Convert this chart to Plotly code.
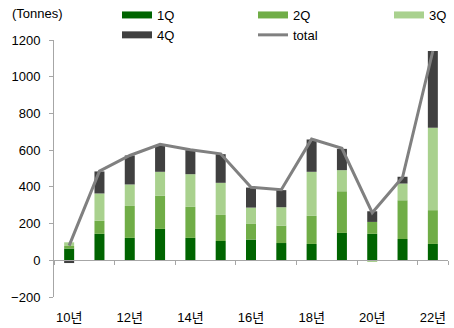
import plotly.graph_objects as go

categories = ["10년", "11년", "12년", "13년", "14년", "15년", "16년",
              "17년", "18년", "19년", "20년", "21년", "22년"]
q1 = [64, 144, 122, 171, 122, 105, 113, 94, 89, 149, 144, 116, 89]
q2 = [14, 71, 174, 180, 169, 142, 85, 95, 153, 227, 65, 211, 184]
q3 = [20, 149, 117, 131, 178, 175, 89, 100, 240, 115, -8, 91, 449]
q4 = [-15, 120, 158, 145, 131, 156, 109, 93, 176, 116, 58, 37, 418]
total = [80, 486, 571, 632, 602, 580, 398, 384, 660, 610, 259, 452, 1140]
tick_labels = ["10년", "12년", "14년", "16년", "18년", "20년", "22년"]

series = [("1Q", q1, "#006400", "legend"),
          ("2Q", q2, "#70AD47", "legend2"),
          ("3Q", q3, "#A9D18E", "legend3"),
          ("4Q", q4, "#404040", "legend")]

FONT = "Arial, 'Liberation Sans', 'Noto Sans CJK KR', sans-serif"

fig = go.Figure()
for name, vals, color, _ in series:
    fig.add_trace(go.Bar(x=categories, y=vals, name=name, marker_color=color,
                         marker_line_width=0, width=0.33, showlegend=False))

fig.add_trace(go.Scatter(x=categories, y=total, mode="lines", name="total",
                         line=dict(color="#808080", width=3), showlegend=False))

# legend entries (no visible data)
for name, vals, color, lg in series:
    fig.add_trace(go.Scatter(x=[categories[0]], y=[None], mode="lines", name=name,
                             line=dict(color=color, width=7), legend=lg))
fig.add_trace(go.Scatter(x=[categories[0]], y=[None], mode="lines", name="total",
                         line=dict(color="#808080", width=3), legend="legend2"))

leg_common = dict(orientation="v", xref="container", yref="container",
                  yanchor="top", xanchor="left", y=1.0 + 2 / 328,
                  font=dict(family=FONT, size=13, color="#000000"),
                  bgcolor="rgba(0,0,0,0)", tracegroupgap=0)

fig.update_layout(
    width=454, height=328,
    margin=dict(l=54, r=6, t=40, b=31, autoexpand=False),
    paper_bgcolor="white", plot_bgcolor="white",
    barmode="relative", bargap=0.67,
    font=dict(family=FONT, size=13, color="#000000"),
    legend=dict(x=117 / 454, **leg_common),
    legend2=dict(x=253 / 454, **leg_common),
    legend3=dict(x=389 / 454, **leg_common),
    xaxis=dict(type="category", categoryorder="array", categoryarray=categories,
               tickmode="array", tickvals=tick_labels, ticktext=tick_labels,
               tickson="boundaries", ticks="outside", ticklen=4, tickangle=0,
               tickcolor="#A6A6A6", showline=True, linecolor="#A6A6A6",
               linewidth=1, showgrid=False, zeroline=False,
               anchor="free", position=200 / 1400, ticklabelstandoff=45,
               range=[-0.5, 12.5], tickfont=dict(size=13), automargin=False),
    yaxis=dict(range=[-200, 1200], dtick=200, tick0=0, showgrid=False,
               zeroline=False, showline=True, linecolor="#A6A6A6", linewidth=1,
               ticks="outside", ticklen=4, tickcolor="#A6A6A6",
               tickfont=dict(size=13), ticklabelstandoff=6, automargin=False),
    annotations=[dict(text="(Tonnes)", xref="paper", yref="paper",
                      x=-54 / 394 + 10 / 394, y=1 + 26 / 257,
                      xanchor="left", yanchor="middle", showarrow=False,
                      font=dict(size=13))],
)

fig.write_html("out.html")
